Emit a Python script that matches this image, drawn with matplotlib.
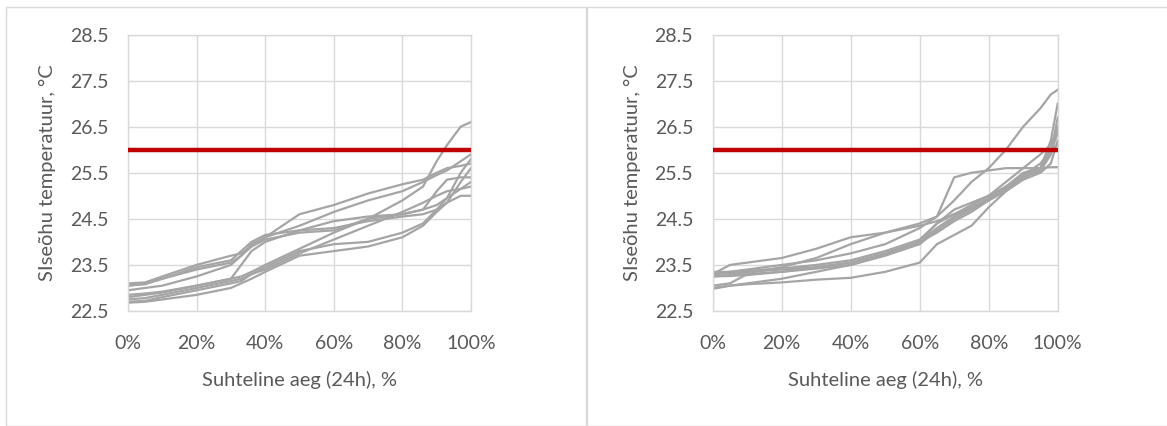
import matplotlib.pyplot as plt
from matplotlib.patches import Rectangle

plt.rcParams['font.family'] = ['Lato', 'DejaVu Sans']

# sorted 24h indoor air temperatures, % of time on x
x_left = [0, 5, 10, 20, 30, 33, 36, 40, 50, 60, 70, 80, 86, 90, 93, 97, 100]
left_series = [
    [23.10, 23.12, 23.25, 23.50, 23.70, 23.75, 23.90, 24.05, 24.20, 24.25, 24.50, 24.90, 25.20, 25.75, 26.10, 26.50, 26.60],
    [23.05, 23.08, 23.20, 23.40, 23.55, 23.70, 23.95, 24.10, 24.35, 24.65, 24.90, 25.10, 25.30, 25.45, 25.55, 25.75, 25.90],
    [22.95, 23.00, 23.05, 23.25, 23.50, 23.70, 23.90, 24.10, 24.60, 24.80, 25.05, 25.25, 25.35, 25.50, 25.60, 25.65, 25.70],
    [22.85, 22.88, 22.92, 23.05, 23.20, 23.50, 23.80, 24.00, 24.25, 24.45, 24.55, 24.60, 24.70, 25.10, 25.35, 25.40, 25.40],
    [22.80, 22.85, 22.90, 23.05, 23.20, 23.25, 23.35, 23.50, 23.85, 24.20, 24.50, 24.60, 24.70, 24.80, 24.95, 25.15, 25.30],
    [22.75, 22.78, 22.85, 23.00, 23.15, 23.20, 23.30, 23.40, 23.75, 24.05, 24.35, 24.65, 24.85, 25.00, 25.10, 25.15, 25.20],
    [22.70, 22.72, 22.80, 22.95, 23.10, 23.15, 23.30, 23.45, 23.80, 23.95, 24.00, 24.20, 24.40, 24.70, 24.95, 25.50, 25.80],
    [22.68, 22.70, 22.75, 22.85, 23.00, 23.10, 23.20, 23.35, 23.70, 23.80, 23.90, 24.10, 24.35, 24.65, 24.85, 25.00, 25.00],
    [23.05, 23.10, 23.20, 23.45, 23.60, 23.80, 24.00, 24.15, 24.25, 24.30, 24.45, 24.55, 24.60, 24.70, 24.85, 25.30, 25.60],
]

x_right = [0, 5, 10, 20, 30, 40, 50, 60, 65, 70, 75, 80, 85, 90, 95, 98, 100]
right_series = [
    [23.30, 23.35, 23.40, 23.50, 23.60, 23.75, 23.95, 24.30, 24.55, 24.90, 25.30, 25.60, 26.00, 26.50, 26.90, 27.20, 27.30],
    [23.30, 23.50, 23.55, 23.65, 23.85, 24.10, 24.20, 24.35, 24.45, 24.60, 24.80, 25.00, 25.30, 25.60, 25.90, 26.10, 26.50],
    [23.25, 23.28, 23.32, 23.45, 23.65, 23.95, 24.20, 24.40, 24.55, 25.40, 25.50, 25.55, 25.60, 25.60, 25.60, 25.62, 25.62],
    [23.35, 23.35, 23.38, 23.42, 23.50, 23.60, 23.80, 24.05, 24.40, 24.70, 24.85, 25.00, 25.20, 25.50, 25.60, 26.20, 27.00],
    [23.30, 23.32, 23.35, 23.40, 23.45, 23.55, 23.75, 24.00, 24.30, 24.55, 24.75, 24.95, 25.20, 25.40, 25.55, 25.90, 26.70],
    [23.25, 23.26, 23.28, 23.35, 23.45, 23.55, 23.75, 24.00, 24.20, 24.45, 24.65, 24.90, 25.15, 25.45, 25.60, 26.00, 26.35],
    [23.05, 23.10, 23.30, 23.35, 23.42, 23.50, 23.70, 23.95, 24.25, 24.50, 24.70, 24.90, 25.10, 25.35, 25.50, 25.70, 26.20],
    [22.98, 23.05, 23.08, 23.12, 23.18, 23.22, 23.35, 23.55, 23.95, 24.15, 24.35, 24.75, 25.10, 25.40, 25.55, 25.90, 26.40],
    [23.00, 23.05, 23.10, 23.20, 23.35, 23.50, 23.72, 24.00, 24.40, 24.60, 24.75, 24.90, 25.15, 25.45, 25.70, 26.00, 26.10],
]

limit_temp = 26.0
y_ticks = [22.5, 23.5, 24.5, 25.5, 26.5, 27.5, 28.5]
x_ticks = [0, 20, 40, 60, 80, 100]

text_col = '#595959'
grid_col = '#D9D9D9'

fig = plt.figure(figsize=(11.67, 4.26), dpi=100)

# chart area frames
for x0, w in [(6, 580), (587, 600)]:
    fig.patches.append(Rectangle((x0 / 1167, 0), w / 1167, 1 - 7 / 426, transform=fig.transFigure,
                                 fill=False, edgecolor=grid_col, linewidth=1))

ax_l = fig.add_axes([128 / 1167, 1 - 311 / 426, 343 / 1167, 276.5 / 426])
ax_r = fig.add_axes([712.7 / 1167, 1 - 311 / 426, 345 / 1167, 276.5 / 426])

for ax, xs, series in [(ax_l, x_left, left_series), (ax_r, x_right, right_series)]:
    for ys in series:
        ax.plot(xs, ys, color='#A5A5A5', linewidth=1.6, zorder=2)
    ax.axhline(limit_temp, color='#C00000', linewidth=3.2, zorder=3)
    ax.set_xlim(0, 100)
    ax.set_ylim(22.5, 28.5)
    ax.set_yticks(y_ticks)
    ax.set_yticklabels([f'{v:.1f}' for v in y_ticks])
    ax.set_xticks(x_ticks)
    ax.set_xticklabels([f'{v}%' for v in x_ticks])
    ax.grid(True, color=grid_col, linewidth=1.0, zorder=0)
    ax.set_axisbelow(True)
    for s in ax.spines.values():
        s.set_color(grid_col)
        s.set_linewidth(1.0)
    ax.tick_params(length=0, labelsize=14, colors=text_col)
    ax.tick_params(axis='y', pad=14)
    ax.tick_params(axis='x', pad=17)
    ax.set_xlabel('Suhteline aeg (24h), %', fontsize=14.5, color=text_col, labelpad=14)
    ax.set_ylabel('SIseõhu temperatuur, °C', fontsize=14.5, color=text_col, labelpad=10)

fig.savefig('out.png', dpi=100)
